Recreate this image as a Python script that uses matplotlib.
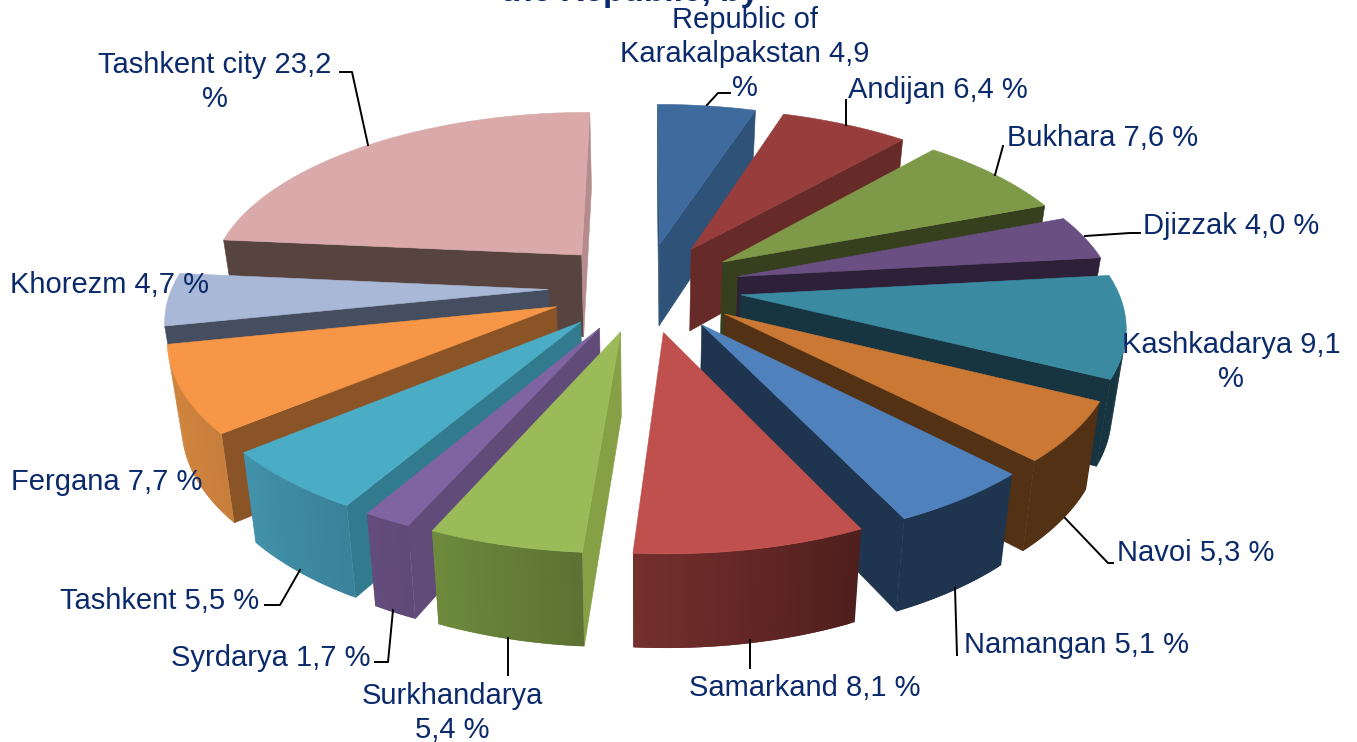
import numpy as np
import matplotlib
matplotlib.use('Agg')
import matplotlib.pyplot as plt
from matplotlib.colors import to_rgb

regions = ['Republic of\nKarakalpakstan 4,9\n%', 'Andijan 6,4 %', 'Bukhara 7,6 %', 'Djizzak 4,0 %',
           'Kashkadarya 9,1\n%', 'Navoi 5,3 %', 'Namangan 5,1 %', 'Samarkand 8,1 %',
           'Surkhandarya\n5,4 %', 'Syrdarya 1,7 %', 'Tashkent 5,5 %', 'Fergana 7,7 %',
           'Khorezm 4,7 %', 'Tashkent city 23,2\n%']
shares = [4.9, 6.4, 7.6, 4.0, 9.1, 5.3, 5.1, 8.1, 5.4, 1.7, 5.5, 7.7, 4.7, 23.2]

top_colors = ['#3E6A9E', '#973D3B', '#7E9A48', '#6A4F82', '#3A8BA2', '#CB7835', '#4F81BD',
              '#C0504D', '#9BBB59', '#8064A2', '#4BACC6', '#F79646', '#A9B8D6', '#D9AAA9']
side_colors = ['#2F5278', '#662A28', '#363F1E', '#2D2038', '#173540', '#533114', '#1F344E',
               '#662A28', '#86A045', '#614B78', '#327B8E', '#8A5426', '#454E60', '#574441']
end_side_colors = ['#2F5278', '#662A28', '#363F1E', '#2D2038', '#173540', '#533114', '#1F344E',
                   '#C0504D', '#86A045', '#614B78', '#327B8E', '#8A5426', '#454E60', '#B58C8B']
rim_start = ['#2F5278', '#662A28', '#363F1E', '#2D2038', '#173540', '#533114', '#1F344E',
             '#4F1F1D', '#5D7233', '#5F4A78', '#3A8299', '#C87F3C', '#8895AE', '#B58C8B']
rim_end = ['#2F5278', '#662A28', '#363F1E', '#2D2038', '#173540', '#533114', '#1F344E',
           '#752F2D', '#6D8A3C', '#644C7C', '#4192AA', '#D4863E', '#8895AE', '#B58C8B']

label_x = [745, 938, 1103, 1231, 1231, 1196, 1076, 805, 452, 271, 160, 107, 110, 215]
label_y = [54, 90, 138, 226, 362, 553, 645, 688, 713, 658, 601, 482, 285, 82]
leaders = [[(707, 105), (718, 93), (730, 93)], [(846, 125), (846, 100)], [(995, 175), (1003, 146)],
           [(1085, 236), (1130, 233), (1140, 233)], None, [(1065, 518), (1108, 563), (1113, 563)],
           [(955, 588), (957, 655)], [(750, 640), (750, 668)], [(508, 638), (508, 675)],
           [(393, 610), (388, 662), (375, 662)], [(300, 570), (280, 605), (265, 605)], None, None,
           [(368, 145), (352, 72), (340, 72)]]

cx, cy = 645, 287
scale_x, scale_y = 376, 173
thick = 83
explode = 0.257
persp = 0.15
shrink = 0.03


def project(x, y, z):
    s = 1 / (1 + persp * y)
    k = 1 - shrink * z
    return cx + scale_x * x * s * k, cy - scale_y * y * s * k + thick * z * s


def area(pts):
    a = np.array(pts)
    return 0.5 * np.sum(a[:, 0] * np.roll(a[:, 1], -1) - np.roll(a[:, 0], -1) * a[:, 1])


def mix(c1, c2, t):
    a, b = np.array(to_rgb(c1)), np.array(to_rgb(c2))
    return tuple(a + (b - a) * t)


def face(ax, pts, color, zo, lw=0.4):
    # same colour edge so no white hairlines along the edges
    ax.fill([p[0] for p in pts], [p[1] for p in pts], facecolor=color,
            edgecolor=color if lw else 'none', lw=lw, zorder=zo)


fig = plt.figure(figsize=(13.57, 7.42), dpi=100)
ax = fig.add_axes([0, 0, 1, 1])
ax.set_xlim(0, 1357)
ax.set_ylim(742, 0)
ax.axis('off')

edges = np.cumsum([0] + shares) / sum(shares) * 2 * np.pi
mids = (edges[:-1] + edges[1:]) / 2
order = np.argsort(-np.cos(mids))

zo = 2
for i in order:
    t0, t1, tm = edges[i], edges[i + 1], mids[i]
    ax0, ay0 = explode * np.sin(tm), explode * np.cos(tm)
    arc = np.linspace(t0, t1, 40)
    outline = [(ax0, ay0)] + [(ax0 + np.sin(a), ay0 + np.cos(a)) for a in arc]
    n = len(outline)
    for j in range(n):
        p, q = outline[j], outline[(j + 1) % n]
        quad = [project(p[0], p[1], 0), project(q[0], q[1], 0), project(q[0], q[1], 1), project(p[0], p[1], 1)]
        # clockwise outline: only faces turned to the camera get drawn
        if area(quad) >= 0:
            continue
        if j == 0:
            face(ax, quad, side_colors[i], zo)
        elif j == n - 1:
            face(ax, quad, end_side_colors[i], zo)
        else:
            # run each rim strip under the next one, that hides the seams
            r = outline[min(j + 2, n - 1)]
            band = [quad[0], project(r[0], r[1], 0), project(r[0], r[1], 1), quad[3]]
            face(ax, band, mix(rim_start[i], rim_end[i], (j - 1) / (n - 3)), zo, lw=0)
    zo += 1
    face(ax, [project(p[0], p[1], 0) for p in outline], top_colors[i], zo)
    zo += 1

for i in range(len(regions)):
    if leaders[i]:
        ax.plot([p[0] for p in leaders[i]], [p[1] for p in leaders[i]], color='black', lw=1.4, zorder=100)
    ax.text(label_x[i], label_y[i], regions[i], family='Liberation Sans', fontsize=21, color='#0B2A6B',
            ha='center', va='center', linespacing=1.28, zorder=101)

ax.text(630, 1, 'the Republic, by', family='Liberation Sans', fontsize=24, fontweight='bold',
        color='#0B2A6B', ha='center', va='baseline', zorder=99)

fig.savefig('out.png', dpi=100)
